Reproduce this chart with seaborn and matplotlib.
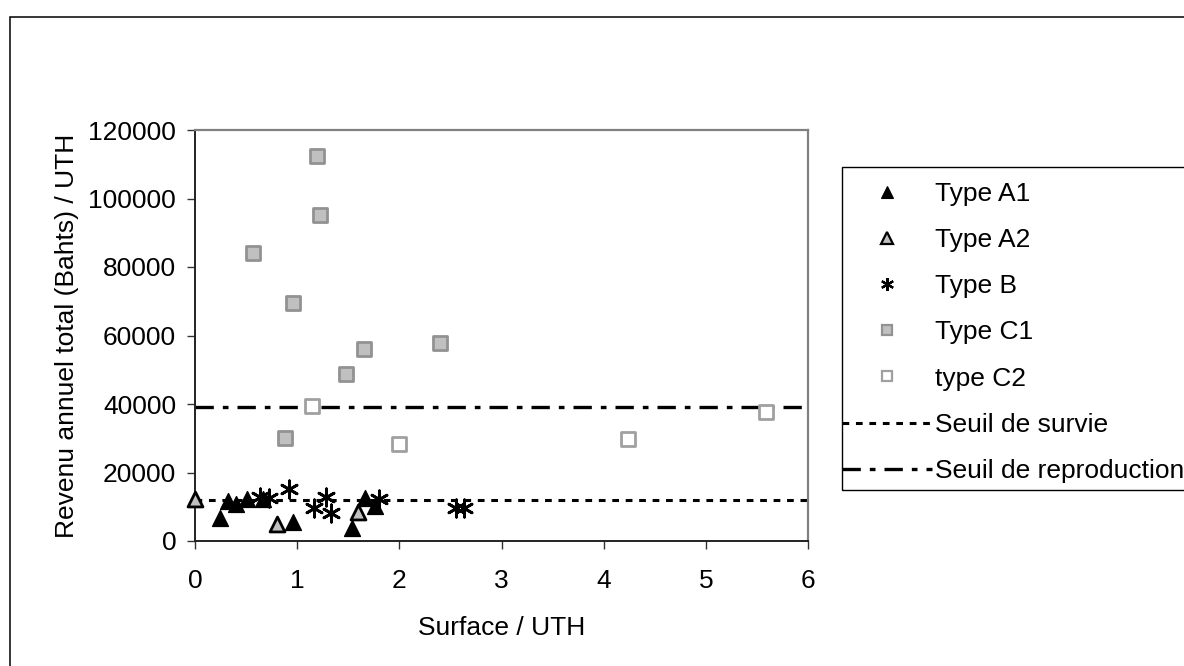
import matplotlib.pyplot as plt
import matplotlib.patches as mpatches
from matplotlib.lines import Line2D
import seaborn as sns
import pandas as pd

sns.set_theme(style="white")
plt.rcParams['font.family'] = ['Liberation Sans', 'DejaVu Sans']
plt.rcParams['text.color'] = 'black'
plt.rcParams['axes.labelcolor'] = 'black'

# values
a1_x = [0.24, 0.32, 0.40, 0.51, 0.67, 0.96, 1.54, 1.66, 1.76]
a1_y = [6600, 11800, 10800, 12200, 12300, 5600, 3700, 12600, 10200]
a2_x = [0.0, 0.80, 1.60]
a2_y = [12300, 5100, 8600]
b_x = [0.64, 0.72, 0.92, 1.16, 1.28, 1.33, 1.80, 2.55, 2.63]
b_y = [12900, 12700, 15100, 9500, 12900, 8100, 12300, 9500, 9500]
c1_x = [0.57, 0.88, 0.96, 1.19, 1.225, 1.475, 1.65, 2.40]
c1_y = [84000, 30000, 69400, 112500, 95200, 48700, 56000, 57700]
c2_x = [1.15, 2.0, 4.24, 5.59]
c2_y = [39500, 28300, 29800, 37600]
seuil_survie = 12000
seuil_reproduction = 39000

x_ticks = [0, 1, 2, 3, 4, 5, 6]
y_ticks = [0, 20000, 40000, 60000, 80000, 100000, 120000]

FS = 19
W, H = 1184, 666
DOT = (2.2, 2.2)
DASHDOT = (5.5, 2.7, 1.7, 2.7)

fig = plt.figure(figsize=(W / 100, H / 100), dpi=100)
ax = fig.add_axes([195 / W, 1 - 541 / H, (808 - 195) / W, (541 - 130) / H])

ax.axhline(seuil_survie, color='black', lw=2.2, dashes=DOT, zorder=1)
ax.axhline(seuil_reproduction, color='black', lw=2.4, dashes=DASHDOT, zorder=1)

# one style per farm type
styles = {
    'Type A1': dict(marker='^', s=130, color='black', edgecolor='black', linewidth=1),
    'Type A2': dict(marker='^', s=115, color='#c0c0c0', edgecolor='black', linewidth=2),
    'Type B': dict(marker=(6, 2, 0), s=155, color='black', edgecolor='black', linewidth=2),
    'Type C1': dict(marker='s', s=95, color='#c0c0c0', edgecolor='#929292', linewidth=2),
    'type C2': dict(marker='s', s=95, color='white', edgecolor='#a0a0a0', linewidth=2),
}
series = {
    'Type A1': (a1_x, a1_y),
    'Type A2': (a2_x, a2_y),
    'Type B': (b_x, b_y),
    'Type C1': (c1_x, c1_y),
    'type C2': (c2_x, c2_y),
}
for name, (xs, ys) in series.items():
    df = pd.DataFrame({'x': xs, 'y': ys})
    sns.scatterplot(data=df, x='x', y='y', ax=ax, legend=False, clip_on=False,
                    zorder=3, **styles[name])

ax.set_xlim(0, 6)
ax.set_ylim(0, 120000)
ax.set_xticks(x_ticks)
ax.set_yticks(y_ticks)
ax.set_xticklabels([str(t) for t in x_ticks])
ax.set_yticklabels([str(t) for t in y_ticks])
ax.tick_params(axis='both', bottom=True, left=True, direction='out', length=5.5,
               width=1, color='#333333', labelsize=FS, labelcolor='black')
ax.tick_params(axis='x', pad=15)
ax.tick_params(axis='y', pad=8)

for side in ['left', 'bottom']:
    ax.spines[side].set_color('#222222')
    ax.spines[side].set_linewidth(1.4)
for side in ['top', 'right']:
    ax.spines[side].set_color('#808080')
    ax.spines[side].set_linewidth(1.6)

ax.set_xlabel('Surface / UTH', fontsize=FS, labelpad=16)
ax.set_ylabel('Revenu annuel total (Bahts) / UTH', fontsize=FS, labelpad=7)

# legend with hand-made handles, frame drawn separately
handles = []
for name in series:
    st = styles[name]
    handles.append(Line2D([], [], linestyle='none', marker=st['marker'],
                          markersize=st['s'] ** 0.5 * 0.75, markerfacecolor=st['color'],
                          markeredgecolor=st['edgecolor'],
                          markeredgewidth=st['linewidth'] * 0.8, label=name))
handles.append(Line2D([], [], color='black', lw=2.2, dashes=DOT, label='Seuil de survie'))
handles.append(Line2D([], [], color='black', lw=2.4, dashes=DASHDOT,
                      label='Seuil de reproduction'))
fig.legend(handles=handles, loc='upper left', bbox_to_anchor=(842 / W, 1 - 182 / H),
           frameon=False, fontsize=FS, borderpad=0, handlelength=3.4,
           handletextpad=0.12, labelspacing=0.84, borderaxespad=0)

fig.patches.append(mpatches.Rectangle((842 / W, 1 - 490 / H), 0.5, (490 - 167) / H,
                                      transform=fig.transFigure, fill=False,
                                      edgecolor='black', lw=1.0))
fig.patches.append(mpatches.Rectangle((10 / W, -0.2), 1.2, 1.2 - 17 / H,
                                      transform=fig.transFigure, fill=False,
                                      edgecolor='black', lw=1.1))

plt.savefig('out.png', dpi=100)
plt.close()
